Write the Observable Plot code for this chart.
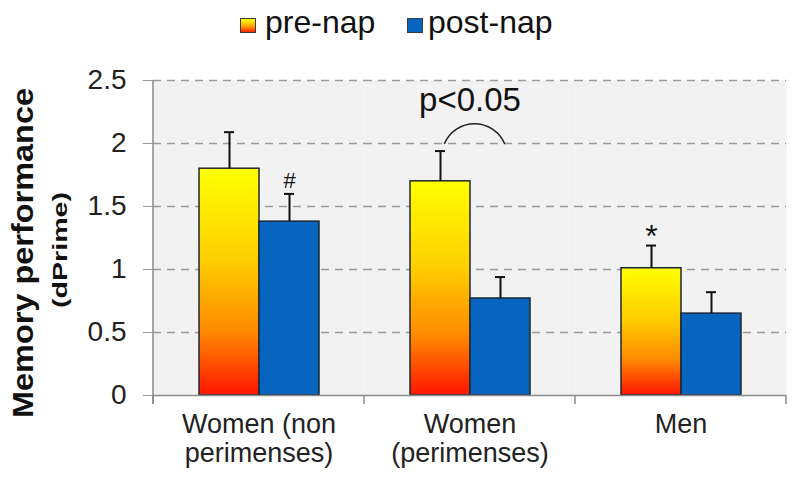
<!DOCTYPE html>
<html>
<head>
<meta charset="utf-8">
<script src="https://cdn.jsdelivr.net/npm/d3@7"></script>
<script src="https://cdn.jsdelivr.net/npm/@observablehq/plot@0.6"></script>
<style>
  body { margin: 0; background: #fff; font-family: "Liberation Sans", Arial, sans-serif; }
  #wrap { position: relative; width: 800px; height: 478px; overflow: hidden; }
  #legend { position: absolute; left: 0; top: 0; width: 800px; height: 58px; }
  .sw { position: absolute; top: 18px; width: 16px; height: 15px; box-sizing: border-box; border: 1px solid #3a3a3a; }
  .lt { position: absolute; top: 6px; font-size: 32px; line-height: 32px; color: #111; white-space: nowrap; }
  #chart { position: absolute; left: 0; top: 58px; }
</style>
</head>
<body>
<div id="wrap">
  <div id="legend"></div>
  <div id="chart"></div>
</div>
<script>
// ---- data ----
const groups = ["Women (non perimenses)", "Women (perimenses)", "Men"];
const groupLabels = ["Women (non\nperimenses)", "Women\n(perimenses)", "Men"];
const series = ["pre-nap", "post-nap"];
const preNap = [1.80, 1.70, 1.01];
const postNap = [1.38, 0.77, 0.65];
const preNapErr = [0.29, 0.24, 0.18];
const postNapErr = [0.22, 0.17, 0.17];
const yTicks = [0, 0.5, 1, 1.5, 2, 2.5];
const markers = [
  {group: "Women (non perimenses)", series: "post-nap", symbol: "#"},
  {group: "Men", series: "pre-nap", symbol: "*"}
];
const sig = [{group: "Women (perimenses)", label: "p<0.05", labelY: 2.34, from: "pre-nap", to: "post-nap", arcY: 2.0}];
const yTitle = "Memory performance";
const ySubtitle = "(dPrime)";
const colors = {"pre-nap": "url(#preGrad)", "post-nap": "#0865bf"};

// ---- table ----
const rows = [];
groups.forEach((g, i) => {
  rows.push({group: g, series: "pre-nap", value: preNap[i], upper: preNap[i] + preNapErr[i]});
  rows.push({group: g, series: "post-nap", value: postNap[i], upper: postNap[i] + postNapErr[i]});
});
const markerRows = markers.map(m => ({...m, y: rows.find(r => r.group === m.group && r.series === m.series).upper}));

// ---- legend ----
const legend = document.getElementById("legend");
const legendPos = [{sw: 240, tx: 265}, {sw: 407, tx: 428}];
series.forEach((s, i) => {
  const sw = document.createElement("div");
  sw.className = "sw";
  sw.style.left = legendPos[i].sw + "px";
  sw.style.background = s === "pre-nap" ? "linear-gradient(#ffff00, #ffb000 50%, #ff2000)" : colors[s];
  legend.appendChild(sw);
  const t = document.createElement("div");
  t.className = "lt";
  t.style.left = legendPos[i].tx + "px";
  t.textContent = s;
  legend.appendChild(t);
});

// ---- chart ----
const chart = Plot.plot({
  width: 800,
  height: 420,
  marginLeft: 152,
  marginRight: 13,
  marginTop: 22,
  marginBottom: 83,
  style: {fontFamily: "'Liberation Sans', Arial, sans-serif", color: "#222", background: "transparent", overflow: "visible"},
  fx: {domain: groups, padding: 0, label: null},
  x: {domain: series, paddingInner: 0, paddingOuter: 0.73, axis: null},
  y: {domain: [0, 2.5], axis: null},
  color: {domain: series, range: series.map(s => colors[s])},
  marks: [
    Plot.frame({fill: "#f2f2f2", stroke: null}),
    Plot.ruleY(yTicks.filter(d => d > 0), {stroke: "#9a9a9a", strokeWidth: 1.5, strokeDasharray: "8,6"}),
    Plot.axisY(yTicks, {tickSize: 10, tickPadding: 17, fontSize: 28, stroke: "#9a9a9a", fill: "#222", label: null, tickFormat: d => String(d)}),
    Plot.axisFx({anchor: "bottom", tickSize: 0, tickPadding: 16, fontSize: 27, lineHeight: 1.1, fill: "#222", label: null,
      tickFormat: d => groupLabels[groups.indexOf(d)]}),
    Plot.barY(rows, {fx: "group", x: "series", y: "value", fill: "series", stroke: "#1c2836", strokeWidth: 1.5}),
    Plot.ruleX(rows, {fx: "group", x: "series", y1: "value", y2: "upper", stroke: "#111", strokeWidth: 2}),
    Plot.tickY(rows, {fx: "group", x: "series", y: "upper", insetLeft: 25, insetRight: 25, stroke: "#111", strokeWidth: 2}),
    Plot.ruleY([0], {stroke: "#8a8a8a", strokeWidth: 1.5}),
    Plot.text(markerRows.filter(d => d.symbol === "#"), {fx: "group", x: "series", y: "y", text: "symbol", dy: -13, fontSize: 22, fill: "#111"}),
    Plot.text(markerRows.filter(d => d.symbol === "*"), {fx: "group", x: "series", y: "y", text: "symbol", dy: -9, fontSize: 32, fill: "#111"}),
    Plot.text(sig, {fx: "group", y: "labelY", text: "label", fontSize: 33, fill: "#111"}),
    Plot.arrow(sig, {fx: "group", x1: "from", x2: "to", y1: "arcY", y2: "arcY", bend: 67, headLength: 0, stroke: "#222", strokeWidth: 1.5, dx: 4})
  ]
});
document.getElementById("chart").appendChild(chart);

// ---- decorations drawn with the library's scales ----
const svg = d3.select(chart.tagName.toLowerCase() === "svg" ? chart : chart.querySelector("svg"));
const defs = svg.insert("defs", ":first-child");
const grad = defs.append("linearGradient").attr("id", "preGrad").attr("x1", 0).attr("y1", 0).attr("x2", 0).attr("y2", 1);
[[0, "#ffff00"], [0.4, "#ffcf00"], [0.72, "#ff8a00"], [1, "#ff1500"]].forEach(([o, c]) =>
  grad.append("stop").attr("offset", o).attr("stop-color", c));

const fx = chart.scale("fx");
const ys = chart.scale("y");
const y0 = ys.apply(0), yTop = ys.apply(2.5);
const bounds = groups.map(g => fx.apply(g)).concat([fx.apply(groups[groups.length - 1]) + fx.bandwidth]);
const deco = svg.append("g").attr("stroke", "#8a8a8a").attr("stroke-width", 1.5);
bounds.forEach(b => deco.append("line").attr("x1", b).attr("x2", b).attr("y1", y0).attr("y2", y0 + 9));
deco.append("line").attr("x1", bounds[0]).attr("x2", bounds[0]).attr("y1", yTop).attr("y2", y0 + 9);

const titles = svg.append("g").attr("fill", "#111").attr("font-weight", "bold").attr("text-anchor", "middle");
titles.append("text").attr("transform", "translate(22,195) rotate(-90)").attr("dy", "0.35em")
  .attr("font-size", 30).attr("textLength", 330).attr("lengthAdjust", "spacingAndGlyphs").text(yTitle);
titles.append("text").attr("transform", "translate(60,192) rotate(-90)").attr("dy", "0.35em")
  .attr("font-size", 20).attr("textLength", 116).attr("lengthAdjust", "spacingAndGlyphs").text(ySubtitle);
</script>
</body>
</html>
